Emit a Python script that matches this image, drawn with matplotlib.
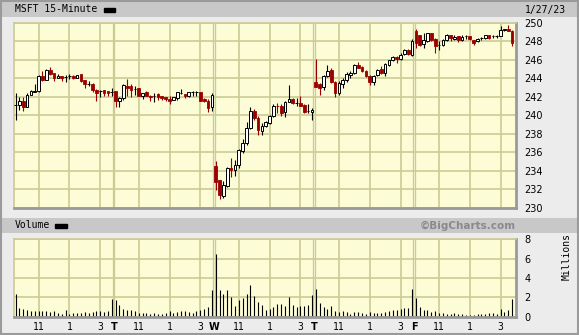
import matplotlib
matplotlib.use("Agg")
import matplotlib.pyplot as plt
from matplotlib.patches import Rectangle

# MSFT 15-minute bars, Mon 1/23 .. Fri 1/27/23 (26 bars per day)
opens = [
    241.15, 241.10, 241.60, 240.95, 242.20, 242.55, 242.60, 244.20, 243.85, 244.90, 244.55, 244.05, 244.27,
    244.10, 244.20, 244.20, 244.02, 244.45, 243.77, 243.40, 243.40, 242.75, 242.58, 242.75, 242.58, 242.47,
    242.58, 241.50, 241.86, 243.19, 243.12, 242.83, 242.94, 242.14, 242.50, 242.14, 242.14, 242.29, 242.10,
    241.96, 241.78, 241.68, 241.86, 242.40, 242.32, 242.04, 242.50, 242.50, 242.47, 241.75, 241.60, 240.85,
    234.54, 233.03, 231.30, 232.38, 234.29, 234.11, 234.65, 236.20, 236.99, 238.60, 240.50, 239.70, 238.36,
    238.90, 239.16, 239.95, 241.03, 240.96, 240.31, 241.39, 241.75, 241.32, 241.32, 241.14, 240.42, 240.31,
    243.65, 243.37, 243.11, 244.20, 244.92, 243.55, 242.39, 243.40, 243.83, 244.38, 244.56, 245.46, 245.20,
    244.80, 244.27, 243.58, 244.38, 244.99, 244.56, 245.46, 245.93, 246.28, 246.07, 246.64, 247.00, 246.54,
    249.06, 248.70, 247.73, 247.98, 248.88, 248.23, 247.62, 247.55, 248.09, 248.63, 248.23, 248.59, 248.09,
    248.52, 248.59, 248.16, 247.98, 248.34, 248.34, 248.70, 248.52, 248.59, 248.59, 249.17, 249.35, 249.06,
]
highs = [
    242.40, 242.00, 241.96, 242.40, 242.76, 243.40, 244.40, 244.80, 244.95, 245.17, 244.60, 244.45, 244.30,
    244.38, 244.45, 244.38, 244.40, 244.50, 243.85, 243.66, 243.50, 242.80, 242.76, 242.76, 242.60, 243.00,
    242.60, 241.96, 243.40, 243.95, 243.40, 243.19, 242.94, 242.40, 242.68, 242.20, 242.40, 242.40, 242.10,
    241.96, 242.04, 241.96, 242.47, 242.86, 242.32, 242.50, 242.68, 242.68, 242.47, 241.86, 241.75, 242.40,
    235.12, 233.03, 232.96, 234.40, 235.37, 235.19, 236.38, 237.43, 239.26, 240.85, 240.67, 239.88, 239.16,
    239.34, 240.06, 241.25, 241.32, 241.25, 241.50, 243.30, 241.86, 241.86, 242.11, 241.25, 241.25, 240.78,
    246.07, 243.47, 244.37, 245.46, 245.10, 243.73, 243.73, 244.00, 244.63, 244.74, 245.56, 245.71, 245.38,
    244.92, 244.38, 244.38, 245.02, 245.28, 245.64, 246.00, 246.36, 246.36, 246.72, 247.19, 247.19, 248.27,
    249.35, 248.70, 248.88, 248.88, 248.88, 248.34, 247.98, 248.23, 248.81, 248.70, 248.70, 248.59, 248.70,
    248.70, 248.59, 248.16, 248.34, 248.45, 248.70, 248.70, 248.70, 248.70, 249.67, 249.35, 249.78, 249.24,
]
lows = [
    239.50, 240.60, 240.49, 240.85, 242.20, 242.50, 242.55, 243.75, 243.80, 244.40, 243.70, 244.00, 243.73,
    243.55, 243.95, 243.90, 244.00, 243.60, 242.95, 243.22, 242.50, 241.50, 241.96, 242.04, 242.04, 242.10,
    240.85, 240.85, 241.68, 242.14, 241.96, 242.22, 242.04, 241.75, 242.04, 241.60, 241.39, 241.68, 241.68,
    241.60, 241.20, 241.68, 241.68, 242.32, 241.86, 241.96, 242.14, 242.14, 241.60, 241.39, 240.41, 240.52,
    231.95, 230.94, 231.05, 232.31, 233.39, 233.46, 234.29, 235.91, 236.81, 238.51, 239.52, 237.90, 237.90,
    238.72, 239.05, 239.77, 240.24, 239.95, 239.77, 241.39, 241.21, 240.96, 240.96, 240.24, 240.24, 239.52,
    243.11, 242.21, 242.75, 244.09, 243.47, 242.03, 242.21, 242.93, 243.65, 244.02, 244.45, 245.10, 244.66,
    244.09, 243.30, 243.30, 244.20, 244.45, 244.20, 245.28, 245.82, 245.64, 246.00, 246.54, 246.46, 246.36,
    247.26, 247.44, 247.26, 247.87, 247.98, 246.72, 247.08, 247.44, 247.98, 247.98, 248.09, 247.87, 247.98,
    248.23, 248.09, 247.62, 247.87, 248.09, 248.23, 248.23, 248.34, 248.34, 248.52, 249.06, 249.06, 247.50,
]
closes = [
    241.15, 241.60, 240.85, 242.20, 242.58, 242.65, 244.20, 243.85, 244.90, 244.50, 244.05, 244.27, 244.02,
    244.10, 244.20, 244.02, 244.38, 243.66, 243.37, 243.40, 242.70, 242.45, 242.58, 242.40, 242.40, 242.47,
    241.50, 241.86, 243.30, 243.00, 242.76, 242.83, 242.14, 242.40, 242.04, 241.96, 242.14, 241.96, 241.86,
    241.75, 241.60, 241.93, 242.47, 242.40, 242.04, 242.50, 242.50, 242.50, 241.60, 241.50, 240.77, 242.20,
    232.85, 231.41, 232.49, 234.29, 234.11, 234.65, 236.27, 236.99, 238.60, 240.42, 239.70, 238.43, 238.90,
    239.23, 239.98, 241.03, 240.96, 240.24, 241.43, 241.75, 241.32, 241.32, 241.03, 240.31, 240.42, 240.60,
    243.11, 242.93, 244.30, 244.80, 243.55, 242.39, 243.47, 243.83, 244.45, 244.56, 245.46, 245.10, 244.74,
    244.20, 243.65, 244.20, 244.92, 244.56, 245.53, 245.93, 246.28, 246.07, 246.54, 247.08, 246.60, 247.98,
    247.80, 247.62, 248.09, 248.88, 248.16, 247.44, 247.62, 248.09, 248.70, 248.34, 248.45, 248.09, 248.45,
    248.52, 248.23, 247.80, 248.27, 248.34, 248.63, 248.34, 248.52, 248.59, 249.24, 249.35, 249.06, 247.80,
]
# volume in millions
volume = [
    2.34, 0.90, 0.80, 0.69, 0.59, 0.59, 0.59, 0.59, 0.59, 0.48, 0.59, 0.38, 0.28,
    0.69, 0.28, 0.38, 0.38, 0.38, 0.48, 0.38, 0.48, 0.59, 0.59, 0.48, 0.59, 1.83,
    1.72, 1.20, 0.79, 0.69, 0.69, 0.59, 0.38, 0.38, 0.38, 0.28, 0.38, 0.28, 0.28,
    0.38, 0.59, 0.38, 0.48, 0.59, 0.59, 0.48, 0.38, 0.59, 0.69, 0.79, 1.00, 2.76,
    6.48, 2.76, 2.34, 2.76, 2.03, 1.10, 1.72, 1.93, 2.34, 3.28, 2.14, 1.52, 1.20,
    0.69, 0.79, 1.00, 1.31, 1.31, 1.10, 2.03, 1.17, 1.03, 1.10, 1.10, 1.20, 2.24,
    2.86, 1.41, 0.97, 0.83, 1.10, 0.59, 0.48, 0.59, 0.48, 0.28, 0.48, 0.48, 0.38,
    0.28, 0.48, 0.41, 0.38, 0.38, 0.48, 0.59, 0.69, 0.69, 0.79, 0.90, 0.93, 2.90,
    1.93, 1.03, 0.69, 0.69, 0.48, 0.59, 0.38, 0.38, 0.28, 0.28, 0.38, 0.28, 0.28,
    0.21, 0.14, 0.21, 0.24, 0.28, 0.28, 0.38, 0.34, 0.28, 0.79, 0.48, 0.69, 1.86,
]
day_letters = ["M", "T", "W", "T", "F"]
hour_labels = ["11", "1", "3"]
hour_offsets = [6, 14, 22]
bars_per_day = 26
price_ticks = [230, 232, 234, 236, 238, 240, 242, 244, 246, 248, 250]
vol_ticks = [0, 2, 4, 6, 8]

W, H = 579, 335
BG = "#ececec"
PANEL = "#fcfcd6"
GRID = "#cbcb94"
RED = "#9b0000"
MONO = "DejaVu Sans Mono"

fig = plt.figure(figsize=(W / 100, H / 100), dpi=100, facecolor=BG)


def fx(px):
    return px / W


def fy(py):
    return 1 - py / H


# header bands
for top, bot in [(2, 17), (218, 233)]:
    fig.patches.append(Rectangle((fx(2), fy(bot)), fx(575), (bot - top) / H,
                                 transform=fig.transFigure, facecolor="#c8c8c8",
                                 edgecolor="none", zorder=0))
fig.patches.append(Rectangle((fx(0.5), fy(334)), fx(577), 333 / H,
                             transform=fig.transFigure, facecolor="none",
                             edgecolor="#9a9a9a", lw=1.5, zorder=1))

fig.text(fx(15), fy(9.5), "MSFT 15-Minute", family=MONO, fontsize=7, va="center")
fig.patches.append(Rectangle((fx(104), fy(11.5)), fx(11), 3.5 / H,
                             transform=fig.transFigure, color="black"))
fig.text(fx(566), fy(9.5), "1/27/23", family=MONO, fontsize=7, va="center", ha="right")
fig.text(fx(15), fy(225.5), "Volume", family=MONO, fontsize=7, va="center")
fig.patches.append(Rectangle((fx(55), fy(227.5)), fx(12), 3.5 / H,
                             transform=fig.transFigure, color="black"))
fig.text(fx(516), fy(225.5), "\u00a9BigCharts.com", fontsize=7.5, fontweight="bold",
         color="#8a8a8a", va="center", ha="right")

ax = fig.add_axes([fx(14), fy(208), fx(502), (208 - 22.7) / H])
axv = fig.add_axes([fx(14), fy(316.7), fx(502), (316.7 - 239.3) / H])

n_days = len(day_letters)
xs = list(range(len(closes)))
grid_x = [d * bars_per_day + o for d in range(n_days) for o in hour_offsets]
day_x = [d * bars_per_day - 0.5 for d in range(1, n_days)]

for a in (ax, axv):
    a.set_facecolor(PANEL)
    a.set_xlim(-0.4, 130.0)
    for gx in grid_x:
        a.axvline(gx, color=GRID, lw=1.2, zorder=0)
    for dx in day_x:
        a.axvline(dx - 0.2, color=GRID, lw=0.9, zorder=0)
        a.axvline(dx + 0.2, color=GRID, lw=0.9, zorder=0)
    a.yaxis.tick_right()
    a.tick_params(axis="y", length=0, pad=6, labelsize=7)
    a.grid(axis="y", color=GRID, lw=1.2, zorder=0)
    a.set_axisbelow(True)
    for s in ("left", "top"):
        a.spines[s].set_color(GRID)
        a.spines[s].set_linewidth(1.2)
    for s in ("right", "bottom"):
        a.spines[s].set_color("#9a9a9a")
        a.spines[s].set_linewidth(2)

# candles
for i in xs:
    o, h, l, c = opens[i], highs[i], lows[i], closes[i]
    if c < o:
        ax.vlines(i, l, h, color=RED, lw=0.8, zorder=2)
        ax.bar(i, c - o, bottom=o, width=0.7, facecolor=RED, edgecolor=RED, lw=0.6, zorder=3)
    else:
        ax.vlines(i, l, h, color="black", lw=0.8, zorder=2)
        ax.bar(i, c - o, bottom=o, width=0.7, facecolor="white", edgecolor="black", lw=0.7, zorder=3)

ax.set_ylim(230, 250)
ax.set_yticks(price_ticks)
ax.set_xticks([])

axv.vlines(xs, 0, volume, color="black", lw=0.8, zorder=2)
axv.set_ylim(0, 8)
axv.set_yticks(vol_ticks)

tick_pos, tick_lab = [], []
for d in range(n_days):
    if d > 0:
        tick_pos.append(d * bars_per_day - 0.4)
        tick_lab.append(day_letters[d])
    for o, lab in zip(hour_offsets, hour_labels):
        tick_pos.append(d * bars_per_day + o)
        tick_lab.append(lab)
axv.set_xticks(tick_pos)
axv.set_xticklabels(tick_lab, family=MONO, fontsize=7)
axv.tick_params(axis="x", length=0, pad=4)
for t in axv.get_xticklabels():
    if t.get_text() in day_letters:
        t.set_fontweight("bold")
        t.set_family("DejaVu Sans")

fig.text(fx(567), fy(257), "Millions", family=MONO, fontsize=7, rotation=90,
         va="center", ha="center")

fig.savefig("out.png", dpi=100, facecolor=BG)
